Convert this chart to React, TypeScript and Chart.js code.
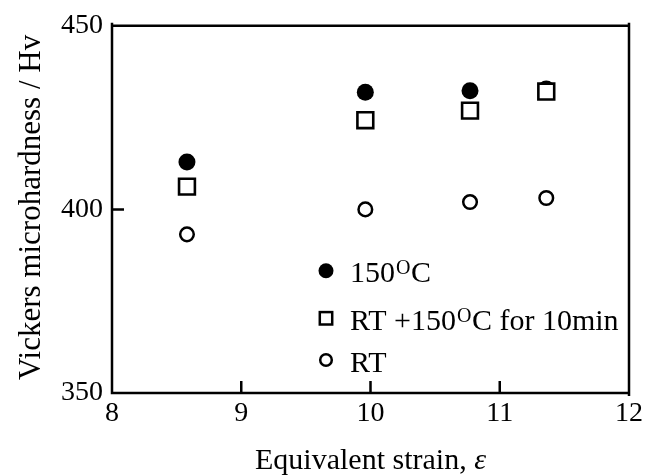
import React, { useEffect, useRef } from "react";
import { Chart, registerables } from "chart.js";

Chart.register(...registerables);

// ---- data ----
const strain = [8.58, 9.96, 10.77, 11.36];
const hv150C = [412.9, 431.9, 432.3, 432.8];
const hvRT150 = [406.2, 424.3, 426.9, 432.1];
const hvRT = [393.2, 400.0, 402.0, 403.1];
const seriesLabels = ["150°C", "RT +150°C for 10min", "RT"];
const xTitle = "Equivalent strain, ";
const xTitleSymbol = "ε";
const yTitle = "Vickers microhardness / Hv";
const xMin = 8, xMax = 12, xStep = 1;
const yMin = 350, yMax = 450, yStep = 50;

const FONT = "'Liberation Serif', 'Times New Roman', serif";

function toPoints(xs: number[], ys: number[]) {
  return xs.map((x, i) => ({ x, y: ys[i] }));
}

// text with "°" rendered as superscript O
function drawLabel(ctx: CanvasRenderingContext2D, text: string, x: number, y: number, size: number) {
  const parts = text.split("°");
  let cx = x;
  ctx.textAlign = "left";
  ctx.textBaseline = "alphabetic";
  parts.forEach((p, i) => {
    ctx.font = `${size}px ${FONT}`;
    ctx.fillText(p, cx, y);
    cx += ctx.measureText(p).width;
    if (i < parts.length - 1) {
      const s = Math.round(size * 0.66);
      ctx.font = `${s}px ${FONT}`;
      ctx.fillText("O", cx + 1, y - size * 0.26);
      cx += ctx.measureText("O").width + 1.5;
    }
  });
}

const framePlugin = {
  id: "framePlugin",
  afterDraw(chart: any) {
    const ctx: CanvasRenderingContext2D = chart.ctx;
    const { left, right, top, bottom } = chart.chartArea;
    const xs = chart.scales.x;
    const ys = chart.scales.y;
    ctx.save();
    ctx.strokeStyle = "#000";
    ctx.fillStyle = "#000";
    ctx.lineWidth = 2.5;
    ctx.lineCap = "butt";
    // frame
    ctx.beginPath();
    ctx.moveTo(left, top - 3);
    ctx.lineTo(left, bottom + 1.25);
    ctx.moveTo(left - 1.25, bottom);
    ctx.lineTo(right + 1.25, bottom);
    ctx.moveTo(right, bottom + 3);
    ctx.lineTo(right, top - 3);
    ctx.moveTo(right + 1.25, top);
    ctx.lineTo(left - 1.25, top);
    ctx.stroke();
    // inward ticks
    ctx.beginPath();
    for (let v = xMin + xStep; v < xMax; v += xStep) {
      const px = xs.getPixelForValue(v);
      ctx.moveTo(px, bottom);
      ctx.lineTo(px, bottom - 12);
    }
    for (let v = yMin + yStep; v < yMax; v += yStep) {
      const py = ys.getPixelForValue(v);
      ctx.moveTo(left, py);
      ctx.lineTo(left + 12, py);
    }
    ctx.stroke();

    // y title
    ctx.save();
    ctx.translate(40, (top + bottom) / 2 - 2);
    ctx.rotate(-Math.PI / 2);
    ctx.font = `31px ${FONT}`;
    ctx.textAlign = "center";
    ctx.textBaseline = "alphabetic";
    ctx.fillText(yTitle, 0, 0);
    ctx.restore();

    // x title
    ctx.font = `30px ${FONT}`;
    const w1 = ctx.measureText(xTitle).width;
    ctx.font = `italic 30px ${FONT}`;
    const w2 = ctx.measureText(xTitleSymbol).width;
    const cx = (left + right) / 2;
    const startX = cx - (w1 + w2) / 2;
    ctx.textAlign = "left";
    ctx.textBaseline = "alphabetic";
    ctx.font = `30px ${FONT}`;
    ctx.fillText(xTitle, startX, 469);
    ctx.font = `italic 30px ${FONT}`;
    ctx.fillText(xTitleSymbol, startX + w1, 469);

    // legend
    const mx = 326;
    const rows = [270.7, 318.3, 360];
    // filled circle
    ctx.beginPath();
    ctx.arc(mx, rows[0], 7.5, 0, Math.PI * 2);
    ctx.fill();
    // square
    ctx.lineWidth = 2.5;
    ctx.strokeRect(mx - 6.2, rows[1] - 6.2, 12.4, 12.4);
    // open circle
    ctx.beginPath();
    ctx.arc(mx, rows[2], 5.8, 0, Math.PI * 2);
    ctx.stroke();
    seriesLabels.forEach((lab, i) => {
      drawLabel(ctx, lab, 350, rows[i] + 11.5, 30);
    });
    ctx.restore();
  },
};

export default function App() {
  const ref = useRef<HTMLCanvasElement | null>(null);
  useEffect(() => {
    if (!ref.current) return;
    const chart = new Chart(ref.current, {
      type: "scatter",
      data: {
        datasets: [
          {
            label: seriesLabels[0],
            data: toPoints(strain, hv150C),
            pointStyle: "circle",
            pointRadius: 8.5,
            pointBackgroundColor: "#000",
            pointBorderColor: "#000",
            pointBorderWidth: 0,
            order: 1,
          },
          {
            label: seriesLabels[1],
            data: toPoints(strain, hvRT150),
            pointStyle: "rect",
            pointRadius: 11.2,
            pointBackgroundColor: "#fff",
            pointBorderColor: "#000",
            pointBorderWidth: 2.6,
            order: 0,
          },
          {
            label: seriesLabels[2],
            data: toPoints(strain, hvRT),
            pointStyle: "circle",
            pointRadius: 6.8,
            pointBackgroundColor: "#fff",
            pointBorderColor: "#000",
            pointBorderWidth: 2.5,
            order: 2,
          },
        ],
      },
      options: {
        responsive: false,
        animation: false,
        layout: { padding: { left: 0, top: 24, right: 30, bottom: 0 } },
        plugins: {
          legend: { display: false },
          tooltip: { enabled: false },
        },
        scales: {
          x: {
            type: "linear",
            min: xMin,
            max: xMax,
            grid: { display: false, drawTicks: false },
            border: { display: false },
            ticks: {
              stepSize: xStep,
              padding: 4,
              color: "#000",
              font: { family: FONT, size: 28 },
            },
            afterFit: (s: any) => {
              s.height = 82;
            },
          },
          y: {
            type: "linear",
            min: yMin,
            max: yMax,
            grid: { display: false, drawTicks: false },
            border: { display: false },
            ticks: {
              stepSize: yStep,
              padding: 9,
              color: "#000",
              font: { family: FONT, size: 28 },
            },
            afterFit: (s: any) => {
              s.width = 112;
            },
          },
        },
      },
      plugins: [framePlugin],
    } as any);
    return () => chart.destroy();
  }, []);
  return (
    <div style={{ position: "absolute", left: 0, top: 0, width: 659, height: 475, background: "#fff" }}>
      <canvas ref={ref} width={659} height={475} style={{ display: "block" }} />
    </div>
  );
}
